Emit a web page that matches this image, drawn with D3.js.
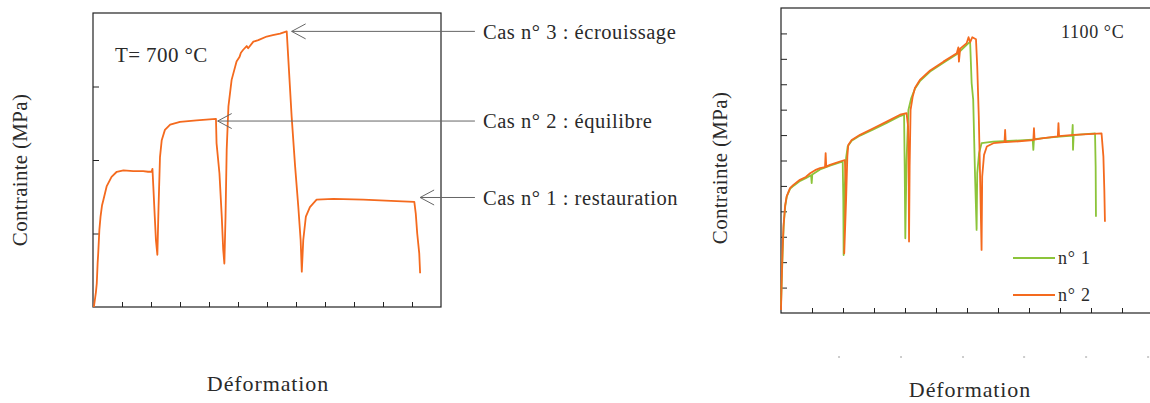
<!DOCTYPE html>
<html>
<head>
<meta charset="utf-8">
<script src="https://cdn.jsdelivr.net/npm/d3@7"></script>
<style>
  html, body { margin: 0; padding: 0; background: #fff; }
  svg { display: block; }
  text { font-family: "Liberation Serif", "DejaVu Serif", serif; fill: #2a2a2a; }
</style>
</head>
<body>
<svg id="chart" width="1150" height="403"></svg>
<script>
// ---- Stress–strain test at 700 °C (strain, stress in axis units) ----
const curve700 = [
  [0.03,0.00],[0.10,0.20],[0.13,0.32],[0.16,0.60],[0.18,0.73],[0.22,1.05],[0.26,1.23],
  [0.31,1.38],[0.36,1.46],[0.47,1.64],[0.64,1.77],[0.82,1.84],[1.05,1.86],[1.39,1.85],
  [1.73,1.85],[1.90,1.84],[2.02,1.84],[2.05,1.88],[2.08,1.64],[2.13,1.23],[2.17,0.91],
  [2.22,0.71],[2.26,1.36],[2.31,2.04],[2.37,2.27],[2.48,2.41],[2.66,2.48],[3.00,2.52],
  [3.57,2.54],[4.24,2.56],[4.26,2.23],[4.36,1.82],[4.44,1.23],[4.49,0.78],[4.53,0.59],
  [4.57,1.23],[4.61,2.14],[4.67,2.73],[4.78,3.09],[4.95,3.34],[5.05,3.40],[5.10,3.46],
  [5.18,3.50],[5.30,3.55],[5.35,3.52],[5.53,3.61],[5.70,3.63],[5.99,3.68],[6.20,3.70],
  [6.45,3.72],[6.68,3.75],[6.85,2.59],[6.97,1.91],[7.08,1.36],[7.16,0.91],[7.20,0.48],
  [7.25,0.91],[7.34,1.23],[7.48,1.36],[7.71,1.46],[8.29,1.47],[9.32,1.46],[10.47,1.44],
  [11.08,1.43],[11.13,1.27],[11.18,1.00],[11.25,0.73],[11.28,0.46]
];

// Annotated cases: arrow tip on the curve (strain, stress) and label
const caseLabels = ["Cas n° 3 : écrouissage", "Cas n° 2 : équilibre", "Cas n° 1 : restauration"];
const caseTips = [[6.85, 3.75], [4.30, 2.53], [11.28, 1.49]];
const caseLineEnd = 13.17;   // strain value where the leader lines stop

// ---- Two tests at 1100 °C ----
const test1 = [
  [0,0.30],[0.03,1.50],[0.06,2.60],[0.09,3.50],[0.14,4.25],[0.19,4.60],[0.30,4.90],
  [0.42,5.02],[0.62,5.20],[0.80,5.30],[0.97,5.42],[0.99,5.11],[1.01,5.45],[1.26,5.65],
  [1.58,5.80],[1.90,5.93],[1.99,5.96],[2.01,4.45],[2.02,2.28],[2.05,4.80],[2.10,6.10],
  [2.15,6.55],[2.28,6.78],[2.55,6.98],[2.98,7.22],[3.41,7.48],[3.80,7.72],[3.97,7.80],
  [3.99,5.76],[4.01,2.94],[4.05,6.02],[4.11,7.99],[4.20,8.45],[4.32,8.82],[4.48,9.12],
  [4.81,9.50],[5.24,9.85],[5.67,10.18],[5.99,10.55],[6.10,10.68],[6.15,9.04],[6.20,8.39],
  [6.26,5.37],[6.31,3.27],[6.33,5.50],[6.39,6.29],[6.47,6.68],[6.85,6.74],[7.50,6.78],
  [8.12,6.82],[8.14,6.42],[8.16,6.84],[8.80,6.92],[9.39,6.98],[9.41,7.40],[9.42,6.42],
  [9.44,7.00],[10.13,7.07],[10.15,5.76],[10.16,3.79]
];
const test2 = [
  [0,0.12],[0.02,1.17],[0.05,2.48],[0.08,3.40],[0.13,4.19],[0.18,4.58],[0.29,4.91],
  [0.40,5.04],[0.61,5.24],[0.80,5.35],[0.94,5.50],[1.10,5.62],[1.26,5.70],[1.42,5.74],
  [1.44,6.29],[1.46,5.76],[1.58,5.83],[1.75,5.90],[1.90,5.96],[2.06,6.02],[2.09,4.97],
  [2.07,3.79],[2.04,2.35],[2.10,4.45],[2.14,6.15],[2.17,6.61],[2.28,6.81],[2.55,7.01],
  [2.98,7.27],[3.41,7.53],[3.84,7.80],[4.05,7.86],[4.10,7.33],[4.12,5.11],[4.13,2.81],
  [4.15,5.76],[4.18,7.99],[4.25,8.52],[4.32,8.85],[4.48,9.17],[4.81,9.54],[5.24,9.89],
  [5.67,10.22],[5.72,10.45],[5.74,9.89],[5.78,10.40],[5.99,10.62],[6.05,10.85],[6.10,10.65],
  [6.17,10.85],[6.29,10.77],[6.33,9.70],[6.38,7.73],[6.42,5.50],[6.47,2.48],[6.49,5.37],
  [6.55,6.22],[6.64,6.55],[6.85,6.68],[7.21,6.72],[7.23,7.20],[7.25,6.72],[7.49,6.74],
  [8.14,6.80],[8.16,7.27],[8.18,6.82],[8.46,6.88],[8.93,6.95],[8.95,7.47],[8.97,6.96],
  [9.43,7.01],[10.07,7.05],[10.34,7.07],[10.40,6.15],[10.43,4.84],[10.45,3.59]
];
const legendNames = ["n° 1", "n° 2"];

// Tick positions (axes carry no numbers)
const xTicks700 = d3.range(1, 12);
const yTicks700 = [1, 2, 3];
const xTicks1100 = d3.range(1, 12);
const yTicks1100 = d3.range(1, 12);
// faint leftover tick-label specks under the 1100 °C axis
const specks1100 = [1.84, 3.84, 5.84, 7.81, 9.81, 11.81];

const ORANGE = "#f46a1e";
const GREEN = "#8cc43a";

const svg = d3.select("#chart");

// ---------- Panel 1 : 700 °C ----------
const x1 = d3.scaleLinear().domain([0, 12]).range([93, 441]);
const y1 = d3.scaleLinear().domain([0, 4]).range([307, 13]);

const p1 = svg.append("g");
p1.append("rect")
  .attr("x", x1(0)).attr("y", y1(4))
  .attr("width", x1(12) - x1(0)).attr("height", y1(0) - y1(4))
  .attr("fill", "none").attr("stroke", "#222").attr("stroke-width", 1.2);

p1.append("g").attr("transform", `translate(0,${y1(0)})`)
  .call(d3.axisBottom(x1).tickValues(xTicks700).tickSize(-5).tickFormat(""))
  .call(g => g.select(".domain").remove())
  .call(g => g.selectAll("line").attr("stroke", "#222"));
p1.append("g").attr("transform", `translate(${x1(0)},0)`)
  .call(d3.axisLeft(y1).tickValues(yTicks700).tickSize(-6).tickFormat(""))
  .call(g => g.select(".domain").remove())
  .call(g => g.selectAll("line").attr("stroke", "#222"));

const line1 = d3.line().x(d => x1(d[0])).y(d => y1(d[1]));
p1.append("path").datum(curve700)
  .attr("d", line1).attr("fill", "none")
  .attr("stroke", ORANGE).attr("stroke-width", 1.8).attr("stroke-linejoin", "round");

p1.append("text").attr("x", 115).attr("y", 62)
  .attr("font-size", 21).attr("letter-spacing", 0.4).text("T= 700 °C");

// Leader lines with open arrowheads
caseTips.forEach((tip, i) => {
  const tx = x1(tip[0]), ty = y1(tip[1]);
  const ex = x1(caseLineEnd);
  const g = p1.append("g").attr("stroke", "#666").attr("stroke-width", 1).attr("fill", "none");
  g.append("line").attr("x1", tx).attr("y1", ty).attr("x2", ex).attr("y2", ty);
  g.append("path").attr("d", `M${tx + 14},${ty - 7.5} L${tx},${ty} L${tx + 14},${ty + 7.5}`);
  p1.append("text").attr("x", ex + 8).attr("y", ty).attr("dy", "0.35em")
    .attr("font-size", 20.5).attr("letter-spacing", 0.55).text(caseLabels[i]);
});

p1.append("text")
  .attr("transform", `translate(27,170) rotate(-90)`)
  .attr("text-anchor", "middle").attr("font-size", 21).attr("letter-spacing", 0.3)
  .text("Contrainte (MPa)");
p1.append("text").attr("x", 268).attr("y", 391)
  .attr("text-anchor", "middle").attr("font-size", 22).attr("letter-spacing", 0.9)
  .text("Déformation");

// ---------- Panel 2 : 1100 °C ----------
const x2 = d3.scaleLinear().domain([0, 12]).range([781, 1153]);
const y2 = d3.scaleLinear().domain([0, 12]).range([313, 8]);

const p2 = svg.append("g");
p2.append("rect")
  .attr("x", x2(0)).attr("y", y2(12))
  .attr("width", x2(12) - x2(0)).attr("height", y2(0) - y2(12))
  .attr("fill", "none").attr("stroke", "#222").attr("stroke-width", 1.2);

p2.append("g").attr("transform", `translate(0,${y2(0)})`)
  .call(d3.axisBottom(x2).tickValues(xTicks1100).tickSize(-5).tickFormat(""))
  .call(g => g.select(".domain").remove())
  .call(g => g.selectAll("line").attr("stroke", "#222"));
p2.append("g").attr("transform", `translate(${x2(0)},0)`)
  .call(d3.axisLeft(y2).tickValues(yTicks1100).tickSize(-6).tickFormat(""))
  .call(g => g.select(".domain").remove())
  .call(g => g.selectAll("line").attr("stroke", "#222"));

p2.append("g").selectAll("line").data(specks1100).join("line")
  .attr("x1", d => x2(d)).attr("x2", d => x2(d) + 2)
  .attr("y1", 357).attr("y2", 357)
  .attr("stroke", "#aaa").attr("stroke-width", 1.2);

const line2 = d3.line().x(d => x2(d[0])).y(d => y2(d[1]));
const seriesColors = [GREEN, ORANGE];
[test1, test2].forEach((s, i) => {
  p2.append("path").datum(s)
    .attr("d", line2).attr("fill", "none")
    .attr("stroke", seriesColors[i]).attr("stroke-width", 1.8).attr("stroke-linejoin", "round");
});

p2.append("text").attr("x", 1061).attr("y", 38)
  .attr("font-size", 18).attr("letter-spacing", 0.6).text("1100 °C");

// Legend
legendNames.forEach((name, i) => {
  const ly = 258 + i * 37;
  p2.append("line").attr("x1", 1013).attr("x2", 1055).attr("y1", ly).attr("y2", ly)
    .attr("stroke", seriesColors[i]).attr("stroke-width", 2);
  p2.append("text").attr("x", 1058).attr("y", ly).attr("dy", "0.35em")
    .attr("font-size", 18).attr("letter-spacing", 0.8).text(name);
});

p2.append("text")
  .attr("transform", `translate(727,168) rotate(-90)`)
  .attr("text-anchor", "middle").attr("font-size", 21).attr("letter-spacing", 0.3)
  .text("Contrainte (MPa)");
p2.append("text").attr("x", 970).attr("y", 397)
  .attr("text-anchor", "middle").attr("font-size", 22).attr("letter-spacing", 0.9)
  .text("Déformation");
</script>
</body>
</html>
